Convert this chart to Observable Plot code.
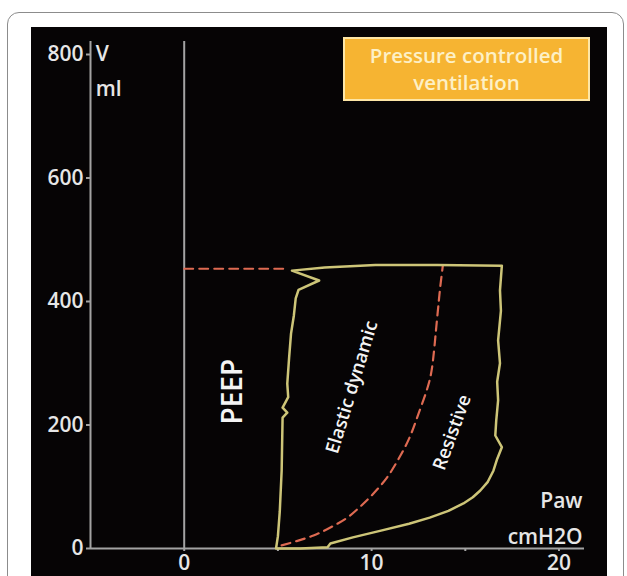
<!DOCTYPE html>
<html>
<head>
<meta charset="utf-8">
<script src="https://cdn.jsdelivr.net/npm/d3@7"></script>
<script src="https://cdn.jsdelivr.net/npm/@observablehq/plot@0.6"></script>
<style>
  html, body { margin: 0; padding: 0; background: #fff; }
  #wrap { position: relative; width: 627px; height: 576px; background: #fff; overflow: hidden; }
  #frame { position: absolute; left: 7px; top: 12px; width: 615px; height: 640px; border: 1px solid #8c8c8c; border-radius: 12px; }
  #panel { position: absolute; left: 31px; top: 27px; width: 576px; height: 549px; background: #060405; }
  #chart { position: absolute; left: 31px; top: 27px; }
  #badge { position: absolute; left: 343px; top: 37px; width: 247px; height: 64px; box-sizing: border-box;
           background: #f6b432; border: 2px solid #fde6a6; color: #fdf0c6;
           font-family: "Open Sans", sans-serif; font-weight: 600; font-size: 20.5px; line-height: 27px;
           display: flex; align-items: center; justify-content: center; text-align: center; }
</style>
</head>
<body>
<div id="wrap">
  <div id="frame"></div>
  <div id="panel"></div>
  <div id="chart"></div>
  <div id="badge">Pressure controlled<br>ventilation</div>
</div>
<script>
// ---- data ----
// Pressure-volume loop: Paw (cmH2O) and volume (ml)
const loopPaw = [4.9, 6.2, 7.65, 7.8, 9.0, 10.5, 12.0, 13.1, 14.1, 14.9, 15.4, 15.8, 16.2, 16.5, 16.7, 16.95, 16.6, 16.65, 16.75, 16.7, 16.85, 16.75, 16.9, 16.85, 16.95, 13.5, 10.2, 7.5, 5.75, 7.2, 6.1, 5.95, 5.85, 5.7, 5.6, 5.5, 5.55, 5.25, 5.5, 5.25, 5.2, 5.1, 5.0, 4.9];
const loopVol = [0, 0, 2, 8, 18, 29, 40, 50, 61, 73, 83, 94, 108, 126, 145, 164, 183, 207, 240, 270, 300, 337, 385, 418, 458, 459, 459, 455, 450, 434, 419, 405, 377, 348, 310, 267, 245, 228, 220, 212, 126, 60, 20, 0];
// Dashed elastic (dynamic compliance) curve
const elasticPaw = [5.2, 6.0, 6.9, 7.8, 8.7, 9.4, 10.1, 10.8, 11.4, 12.0, 12.5, 13.0, 13.2, 13.5, 13.65, 13.8];
const elasticVol = [5, 12, 21, 34, 50, 68, 89, 114, 143, 178, 218, 262, 288, 374, 420, 458];
// Dashed horizontal reference at end-inspiratory volume
const refPaw = [0, 5.5];
const refVol = [453, 453];
// Axis ticks
const xTicks = [0, 5, 10, 15, 20];
const xTickLabels = ["0", "", "10", "", "20"];
const yTicks = [0, 200, 400, 600, 800];
// Region labels
const regionNames = ["PEEP", "Elastic dynamic", "Resistive"];
const regionPaw = [2.62, 8.95, 14.3];
const regionVol = [254, 261, 188];
// Axis titles
const yTitle = ["V", "ml"];
const xTitle = ["Paw", "cmH2O"];

const loop = loopPaw.map((p, i) => ({paw: p, vol: loopVol[i]}));
const elastic = elasticPaw.map((p, i) => ({paw: p, vol: elasticVol[i]}));
const ref = refPaw.map((p, i) => ({paw: p, vol: refVol[i]}));
const regions = regionNames.map((n, i) => ({name: n, paw: regionPaw[i], vol: regionVol[i]}));

const axisGray = "#a3a3a3";
const textCol = "#e6e6e6";
const font = "'Open Sans', sans-serif";
const X0 = -5, X1 = 21.36, YTOP = 821;

const chart = Plot.plot({
  width: 576,
  height: 549,
  marginLeft: 59,
  marginRight: 23,
  marginTop: 27,
  marginBottom: 28,
  style: {background: "transparent", color: textCol, fontFamily: font, fontSize: "21px", fontWeight: 600},
  x: {domain: [X0, X1], label: null},
  y: {domain: [0, 800], label: null},
  marks: [
    Plot.axisY({ticks: yTicks, tickSize: 4, tickPadding: 3, stroke: axisGray, strokeWidth: 2, fill: textCol, fontSize: 21, fontWeight: 600, label: null}),
    Plot.axisX({ticks: xTicks, tickSize: 3, tickPadding: 4, tickFormat: (d) => xTickLabels[xTicks.indexOf(d)], stroke: axisGray, strokeWidth: 2, fill: textCol, fontSize: 21, fontWeight: 600, label: null}),
    Plot.ruleX([X0], {x: d => d, y1: () => 0, y2: () => YTOP, stroke: axisGray, strokeWidth: 2}),
    Plot.ruleX([0], {x: d => d, y1: () => 0, y2: () => YTOP, stroke: axisGray, strokeWidth: 2}),
    Plot.ruleY([0], {y: d => d, x1: () => X0, x2: () => X1, stroke: axisGray, strokeWidth: 2}),
    Plot.line(ref, {x: "paw", y: "vol", stroke: "#de6a52", strokeWidth: 2, strokeDasharray: "9,6"}),
    Plot.line(elastic, {x: "paw", y: "vol", stroke: "#de6a52", strokeWidth: 2.2, strokeDasharray: "9,6", curve: "catmull-rom"}),
    Plot.line(loop, {x: "paw", y: "vol", stroke: "#cdc578", strokeWidth: 2.5, curve: "linear", strokeLinejoin: "round"}),
    Plot.text([regions[0]], {x: "paw", y: "vol", text: "name", rotate: -90, fill: "#f4f4f4", fontSize: 28, fontWeight: 600}),
    Plot.text([regions[1]], {x: "paw", y: "vol", text: "name", rotate: -73, fill: "#f4f4f4", fontSize: 18.5, fontWeight: 600}),
    Plot.text([regions[2]], {x: "paw", y: "vol", text: "name", rotate: -70, fill: "#f4f4f4", fontSize: 18.5, fontWeight: 600}),
    Plot.text([yTitle[0]], {x: () => -4.72, y: () => 800, text: d => d, textAnchor: "start", fill: textCol, fontSize: 21, fontWeight: 600}),
    Plot.text([yTitle[1]], {x: () => -4.72, y: () => 743, text: d => d, textAnchor: "start", fill: textCol, fontSize: 21, fontWeight: 600}),
    Plot.text([xTitle[0]], {x: () => 21.25, y: () => 77, text: d => d, textAnchor: "end", fill: textCol, fontSize: 21, fontWeight: 600}),
    Plot.text([xTitle[1]], {x: () => 21.25, y: () => 18, text: d => d, textAnchor: "end", fill: textCol, fontSize: 21, fontWeight: 600})
  ]
});
document.getElementById("chart").appendChild(chart);
</script>
</body>
</html>
